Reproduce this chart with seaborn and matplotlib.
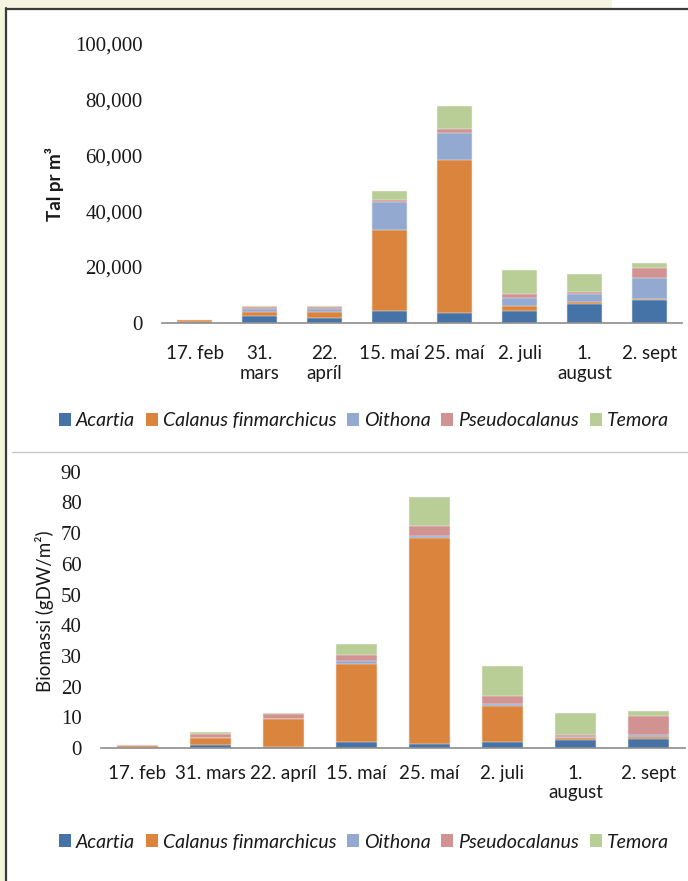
import numpy as np
import matplotlib
matplotlib.use("Agg")
import matplotlib.pyplot as plt
import seaborn as sns
from matplotlib.patches import Rectangle
from matplotlib.lines import Line2D
from matplotlib.ticker import FuncFormatter

sns.set_theme(style="white")
plt.rcParams["font.family"] = ["Lato", "DejaVu Sans"]

# Sampling dates
dates_top = ["17. feb", "31.\nmars", "22.\napríl", "15. maí", "25. maí",
             "2. juli", "1.\naugust", "2. sept"]
dates_bottom = ["17. feb", "31. mars", "22. apríl", "15. maí", "25. maí",
                "2. juli", "1.\naugust", "2. sept"]

species = ["Acartia", "Calanus finmarchicus", "Oithona", "Pseudocalanus", "Temora"]
colors = ["#4572A7", "#DB843D", "#93A9CF", "#D19392", "#B9CD96"]

# Abundance (individuals per m3)
acartia_n = [100, 2500, 1700, 4300, 3500, 4000, 6700, 8000]
calanus_n = [700, 1300, 2200, 28900, 55000, 2100, 800, 500]
oithona_n = [50, 900, 900, 10100, 9400, 2800, 2800, 7600]
pseudo_n = [150, 800, 800, 800, 1400, 1300, 500, 3600]
temora_n = [0, 400, 400, 3100, 8600, 8500, 6700, 1800]

# Biomass (gDW per m2)
acartia_b = [0.1, 0.9, 0.4, 1.8, 1.4, 1.8, 2.5, 2.9]
calanus_b = [0.6, 2.4, 9.0, 25.7, 67.0, 12.0, 0.65, 0.55]
oithona_b = [0.02, 0.1, 0.1, 0.8, 0.8, 0.6, 0.45, 0.65]
pseudo_b = [0.2, 1.3, 1.5, 2.0, 3.1, 2.7, 0.5, 6.2]
temora_b = [0.0, 0.5, 0.5, 3.6, 9.4, 9.7, 7.4, 1.9]

W, H = 688, 881
fig = plt.figure(figsize=(W / 100, H / 100), dpi=100)

# Page background strips and frame
beige = "#F4F5DE"
fig.add_artist(Rectangle((0, 1 - 8 / H), 612 / W, 8 / H, transform=fig.transFigure,
                         facecolor=beige, edgecolor="none", zorder=0))
fig.add_artist(Rectangle((0, 0), 5 / W, 1, transform=fig.transFigure,
                         facecolor=beige, edgecolor="none", zorder=0))
fig.add_artist(Line2D([6 / W, 6 / W], [0, 1 - 8 / H], transform=fig.transFigure,
                      color="#3A3A3A", lw=1.6))
fig.add_artist(Line2D([6 / W, 1], [1 - 9 / H, 1 - 9 / H], transform=fig.transFigure,
                      color="#3A3A3A", lw=1.6))
fig.add_artist(Line2D([12 / W, 1], [1 - 452 / H, 1 - 452 / H], transform=fig.transFigure,
                      color="#C9C9C9", lw=1.0))


def px_axes(x0, x1, y_zero, y_top):
    return fig.add_axes([x0 / W, 1 - y_zero / H, (x1 - x0) / W, (y_zero - y_top) / H])


def stacked(ax, labels, layers, width):
    cum = np.cumsum(np.array(layers, dtype=float), axis=0)
    for i in reversed(range(len(layers))):
        sns.barplot(x=labels, y=cum[i], order=labels, color=colors[i], saturation=1,
                    width=width, edgecolor="#F4F4F4", linewidth=0.35, ax=ax)


def style(ax, ylim, yticks, fmt, xpad):
    ax.set_ylim(*ylim)
    ax.set_xlim(-0.5, 7.5)
    ax.set_yticks(yticks)
    ax.yaxis.set_major_formatter(FuncFormatter(fmt))
    for s in ["top", "right", "left"]:
        ax.spines[s].set_visible(False)
    ax.spines["bottom"].set_color("#8C8C8C")
    ax.spines["bottom"].set_linewidth(1.2)
    ax.tick_params(axis="y", length=0, pad=14)
    ax.tick_params(axis="x", length=0, pad=xpad)
    for t in ax.get_yticklabels():
        t.set_fontfamily("Liberation Serif")
        t.set_fontsize(15)
        t.set_color("#1A1A1A")
    for t in ax.get_xticklabels():
        t.set_fontsize(13.5)
        t.set_color("#1A1A1A")
        t.set_linespacing(1.2)
    ax.set_xlabel("")
    ax.set_ylabel("")
    ax.grid(False)


def legend_at(y_px):
    handles = [Rectangle((0, 0), 1, 1, facecolor=c, edgecolor="none") for c in colors]
    fig.legend(handles, species, loc="center", bbox_to_anchor=(364 / W, 1 - y_px / H),
               ncol=5, frameon=False, handlelength=0.62, handleheight=0.62,
               handletextpad=0.25, columnspacing=0.55,
               prop={"family": "Lato", "style": "italic", "size": 14},
               labelcolor="#1A1A1A")


# Abundance panel
ax1 = px_axes(162, 682, 322.5, 44)
stacked(ax1, dates_top, [acartia_n, calanus_n, oithona_n, pseudo_n, temora_n], 0.55)
style(ax1, (0, 100000), np.arange(0, 100001, 20000), lambda v, p: f"{int(v):,}", 16)
fig.text(55 / W, 1 - 184 / H, "Tal pr m³", rotation=90, ha="center", va="center",
         fontsize=13.5, fontweight="bold", color="#1A1A1A")
legend_at(421)

# Biomass panel
ax2 = px_axes(101, 685, 748, 471.7)
stacked(ax2, dates_bottom, [acartia_b, calanus_b, oithona_b, pseudo_b, temora_b], 0.56)
style(ax2, (0, 90), np.arange(0, 91, 10), lambda v, p: f"{int(v)}", 12)
fig.text(45 / W, 1 - 611 / H, "Biomassi (gDW/m²)", rotation=90, ha="center", va="center",
         fontsize=13.5, color="#1A1A1A")
legend_at(842)

fig.savefig("out.png", dpi=100, facecolor="white")
